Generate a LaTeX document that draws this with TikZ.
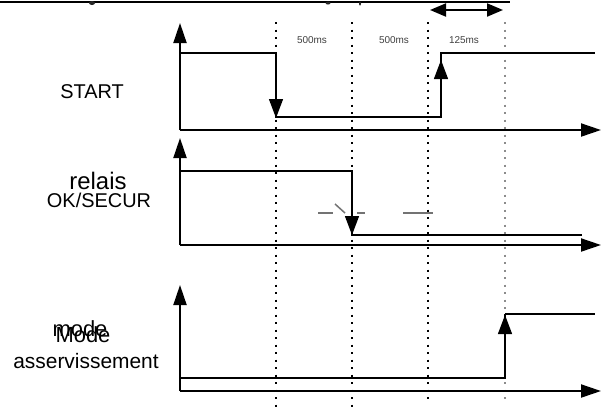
\documentclass[tikz,border=0pt]{standalone}
\usepackage{fontspec}
\setmainfont{Liberation Sans}
\usetikzlibrary{arrows.meta}
\begin{document}
\begin{tikzpicture}[x=1bp,y=-1bp,
 axis/.style={line width=2bp,-{Triangle[length=20bp,width=13bp]}},
 sig/.style={line width=1.3bp},
 edgearrow/.style={line width=1.3bp,-{Triangle[length=19bp,width=14bp]}},
 gridline/.style={line width=1.2bp,dash pattern=on 2bp off 5.5bp},
 lbl/.style={inner sep=0pt,anchor=base},
 ms/.style={inner sep=0pt,font=\fontsize{10}{10}\selectfont,text=black!75},
 tick/.style={draw=black!55,line width=1.5bp},
 blob/.style={fill=black!85}]
\useasboundingbox (0,0) rectangle (606,412);
\fill[white] (0,0) rectangle (606,412);
% top rule (cut-off text above) and interval arrow
\draw[line width=2.5bp] (0,2) -- (510,2);
\fill[blob] (92,3) ellipse [x radius=3bp, y radius=2bp];
\fill[blob] (328,3) ellipse [x radius=2.5bp, y radius=1.5bp];
\fill[blob] (360,3.5) ellipse [x radius=1bp, y radius=2bp];
\draw[line width=2bp,{Triangle[length=16bp,width=13bp]}-{Triangle[length=16bp,width=13bp]}] (430,10) -- (503,10);
% time markers
\draw[gridline] (276,22) -- (276,412);
\draw[gridline] (352,22) -- (352,412);
\draw[gridline,line width=2.4bp] (428,22) -- (428,402);
\draw[gridline,draw=black!45] (505,22) -- (505,402);
\node[ms] (t1) at (312,40) {500ms};
\node[ms] (t2) at (394,40) {500ms};
\node[ms] (t3) at (464,40) {125ms};
% START
\draw[axis] (180,130) -- (180,23);
\draw[axis] (180,130) -- (601,130);
\draw[sig] (180,53) -- (276,53) -- (276,117) -- (441,117) -- (441,53) -- (595,53);
\draw[edgearrow] (276,53) -- (276,118);
\draw[edgearrow] (441,117) -- (441,60);
\node[lbl,font=\fontsize{20}{20}\selectfont] (start) at (92,98) {START};
% relais OK/SECUR
\draw[axis] (180,245) -- (180,138);
\draw[axis] (180,245) -- (601,245);
\draw[tick] (318,213) -- (333,213);
\draw[tick] (335,204) -- (345,213);
\draw[tick] (357,213) -- (365,213);
\draw[tick] (403,213) -- (433,213);
\draw[sig] (180,171) -- (352,171) -- (352,235) -- (582,235);
\draw[edgearrow] (352,171) -- (352,235);
\node[lbl,font=\fontsize{24}{24}\selectfont] (relais) at (98,189) {relais};
\node[lbl,font=\fontsize{20}{20}\selectfont] (ok) at (99,207) {OK/SECUR};
% mode asservissement
\draw[axis] (180,391) -- (180,285);
\draw[axis] (180,391) -- (601,391);
\draw[sig] (180,378) -- (505,378) -- (505,314);
\draw[line width=2.2bp] (505,314) -- (595,314);
\draw[edgearrow] (505,378) -- (505,315);
\node[lbl,font=\fontsize{22}{22}\selectfont] (mode) at (80,336) {mode};
\node[lbl,font=\fontsize{22}{22}\selectfont] (Mode) at (83,342) {Mode};
\node[lbl,font=\fontsize{21}{21}\selectfont] (asserv) at (86,368) {asservissement};
\end{tikzpicture}
\end{document}
